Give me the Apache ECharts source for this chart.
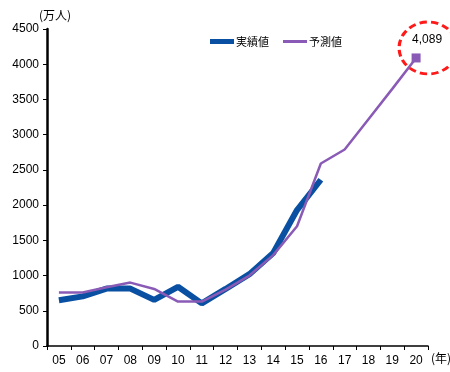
<!DOCTYPE html>
<html>
<head>
<meta charset="utf-8">
<script src="https://cdn.jsdelivr.net/npm/echarts@6/dist/echarts.min.js"></script>
<style>
  html, body { margin: 0; padding: 0; background: #fff; }
  #main { width: 450px; height: 372px; }
</style>
</head>
<body>
<div id="main"></div>
<script>
// 年（カテゴリ）
const years = ['05', '06', '07', '08', '09', '10', '11', '12', '13', '14', '15', '16', '17', '18', '19', '20'];
// 実績値（万人）
const actual = [650, 705, 815, 815, 655, 840, 605, 810, 1020, 1320, 1930, 2360, null, null, null, null];
// 予測値（万人）
const forecast = [760, 760, 835, 900, 810, 630, 630, 800, 1000, 1290, 1700, 2590, 2790, 3220, 3650, 4089];
const yTicks = { min: 0, max: 4500, interval: 500 };

const font = '"Liberation Sans Narrow", "Liberation Sans", Arial, sans-serif';
const cjk = '"Noto Sans CJK JP", sans-serif';

const chart = echarts.init(document.getElementById('main'));

// 予測値のデータ（最後の点だけマーカーとラベル）
const forecastData = forecast.map((v, i) => {
  if (i !== forecast.length - 1) return v;
  return {
    value: v,
    symbol: 'rect',
    symbolSize: 9,
    label: {
      show: true,
      position: 'top',
      offset: [11, -3],
      formatter: '4,089',
      fontFamily: font,
      fontSize: 12,
      color: '#000'
    }
  };
});

const option = {
  animation: false,
  grid: { left: 47, right: 22, top: 29, bottom: 26, outerBoundsMode: 'none', containLabel: false },
  title: {
    text: '(万人)',
    left: 34,
    top: 4,
    textStyle: { fontFamily: cjk, fontSize: 12, fontWeight: 'normal', color: '#000' }
  },
  legend: {
    top: 31,
    left: 205,
    itemGap: 14,
    itemWidth: 24,
    itemHeight: 5,
    textStyle: { fontFamily: cjk, fontSize: 11, color: '#000', padding: [0, 0, 0, -3] },
    data: [
      { name: '実績値', icon: 'rect' },
      { name: '予測値', icon: 'path://M0,1 L24,1 L24,4 L0,4 Z' }
    ]
  },
  xAxis: {
    type: 'category',
    data: years,
    boundaryGap: true,
    name: '(年)',
    nameGap: 3,
    nameLocation: 'end',
    nameTextStyle: { fontFamily: cjk, fontSize: 12, color: '#000', verticalAlign: 'top', padding: [6, 0, 0, 0] },
    axisLine: { lineStyle: { color: '#000', width: 1.5 } },
    axisTick: { show: true, length: 4, lineStyle: { color: '#000' } },
    axisLabel: { fontFamily: font, fontSize: 12, color: '#000', margin: 9 },
    splitLine: { show: false }
  },
  yAxis: {
    type: 'value',
    min: yTicks.min,
    max: yTicks.max,
    interval: yTicks.interval,
    axisLine: { show: true, lineStyle: { color: '#000', width: 2.5 } },
    axisTick: { show: true, length: 4, lineStyle: { color: '#000' } },
    axisLabel: { fontFamily: font, fontSize: 12, color: '#000', margin: 8, formatter: (v) => String(v) },
    splitLine: { show: false }
  },
  series: [
    {
      name: '実績値',
      type: 'line',
      data: actual,
      symbol: 'none',
      lineStyle: { color: '#0a50a2', width: 6 },
      itemStyle: { color: '#0a50a2' },
      z: 2
    },
    {
      name: '予測値',
      type: 'line',
      data: forecastData,
      symbol: 'none',
      lineStyle: { color: '#8a5bb6', width: 2.5 },
      itemStyle: { color: '#8a5bb6' },
      z: 3,
      markPoint: {
        silent: true,
        symbol: 'circle',
        symbolSize: [58, 52],
        symbolOffset: [12, -10],
        itemStyle: { color: 'rgba(0,0,0,0)', borderColor: '#ff1a1a', borderWidth: 3, borderType: [7, 4] },
        label: { show: false },
        data: [{ coord: ['20', 4089] }]
      }
    }
  ]
};

chart.setOption(option);

window.addEventListener('resize', () => {
  chart.resize();
});
</script>
</body>
</html>
